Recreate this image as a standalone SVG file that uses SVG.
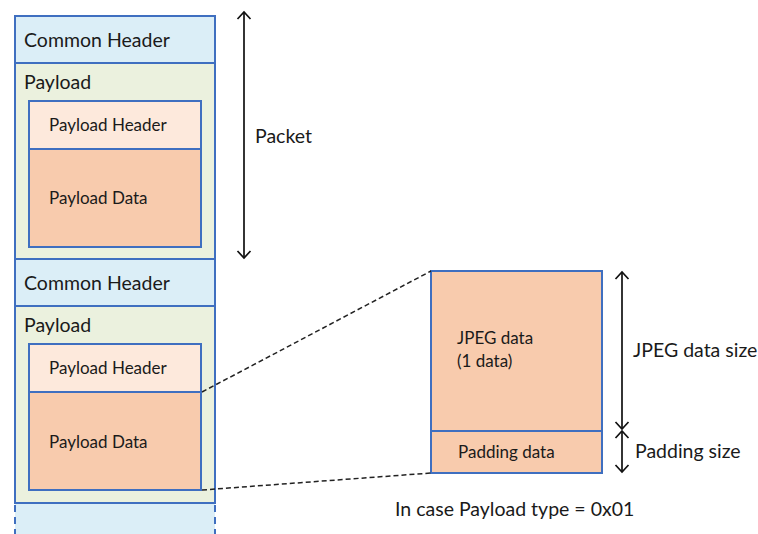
<svg xmlns="http://www.w3.org/2000/svg" width="758" height="534" viewBox="0 0 758 534">
<style>
text{font-family:Lato,"Liberation Sans",sans-serif;fill:#1a1a1a}
.big{font-size:19.5px}
.mid{font-size:17px}
.box{stroke:#3f6fc0;stroke-width:2}
.ch{fill:#dbeef7}
.pl{fill:#ebf1de}
.ph{fill:#fde9dc}
.pd{fill:#f8cbad}
.dash{stroke:#222;stroke-width:1.5;stroke-dasharray:5 3;fill:none}
.arr{stroke:#111;stroke-width:1.7;fill:none;marker-start:url(#ah);marker-end:url(#ah)}
</style>
<defs>
<marker id="ah" viewBox="-9 -9 11 18" markerWidth="11" markerHeight="18" refX="0" refY="0" orient="auto-start-reverse" markerUnits="userSpaceOnUse">
<path d="M-7,-6.5 L0,0 L-7,6.5" fill="none" stroke="#111" stroke-width="1.7"/>
</marker>
</defs>
<rect x="0" y="0" width="758" height="534" fill="#fff"/>

<g id="packet1-common-header">
<rect class="box ch" x="15" y="16" width="200" height="47"/>
<text class="big" x="24" y="47">Common Header</text>
</g>
<g id="packet1-payload">
<rect class="box pl" x="15" y="63" width="200" height="196"/>
<text class="big" x="24" y="89">Payload</text>
</g>
<g id="packet1-payload-header">
<rect class="box ph" x="29" y="101" width="172" height="48"/>
<text class="mid" x="49" y="131">Payload Header</text>
</g>
<g id="packet1-payload-data">
<rect class="box pd" x="29" y="149" width="172" height="98"/>
<text class="mid" x="49" y="204">Payload Data</text>
</g>

<g id="packet2-common-header">
<rect class="box ch" x="15" y="259" width="200" height="47"/>
<text class="big" x="24" y="290">Common Header</text>
</g>
<g id="packet2-payload">
<rect class="box pl" x="15" y="306" width="200" height="197"/>
<text class="big" x="24" y="332">Payload</text>
</g>
<g id="packet2-payload-header">
<rect class="box ph" x="29" y="344" width="172" height="48"/>
<text class="mid" x="49" y="374">Payload Header</text>
</g>
<g id="packet2-payload-data">
<rect class="box pd" x="29" y="392" width="172" height="98"/>
<text class="mid" x="49" y="448">Payload Data</text>
</g>

<g id="packet3-partial">
<rect class="ch" x="15" y="503" width="200" height="31"/>
<line x1="15" y1="503" x2="215" y2="503" class="box"/>
<line x1="15" y1="505" x2="15" y2="534" stroke="#3f6fc0" stroke-width="2" stroke-dasharray="7 5"/>
<line x1="215" y1="505" x2="215" y2="534" stroke="#3f6fc0" stroke-width="2" stroke-dasharray="7 5"/>
</g>

<g id="jpeg-data">
<rect class="box pd" x="431" y="271" width="171" height="160"/>
<text class="mid" x="457" y="344">JPEG data</text>
<text class="mid" x="457" y="367">(1 data)</text>
</g>
<g id="padding-data">
<rect class="box pd" x="431" y="431" width="171" height="42"/>
<text class="mid" x="458" y="458">Padding data</text>
</g>

<g id="connectors">
<line class="dash" x1="202" y1="392" x2="431" y2="271"/>
<line class="dash" x1="202" y1="490" x2="431" y2="473"/>
<line class="arr" x1="244" y1="12" x2="244" y2="258"/>
<line class="arr" x1="622" y1="272" x2="622" y2="429"/>
<line class="arr" x1="622" y1="431" x2="622" y2="472"/>
</g>

<g id="labels">
<text class="big" x="255" y="143">Packet</text>
<text class="big" x="633" y="357">JPEG data size</text>
<text class="big" x="635" y="458">Padding size</text>
<text class="big" x="395" y="516">In case Payload type = 0x01</text>
</g>
</svg>
